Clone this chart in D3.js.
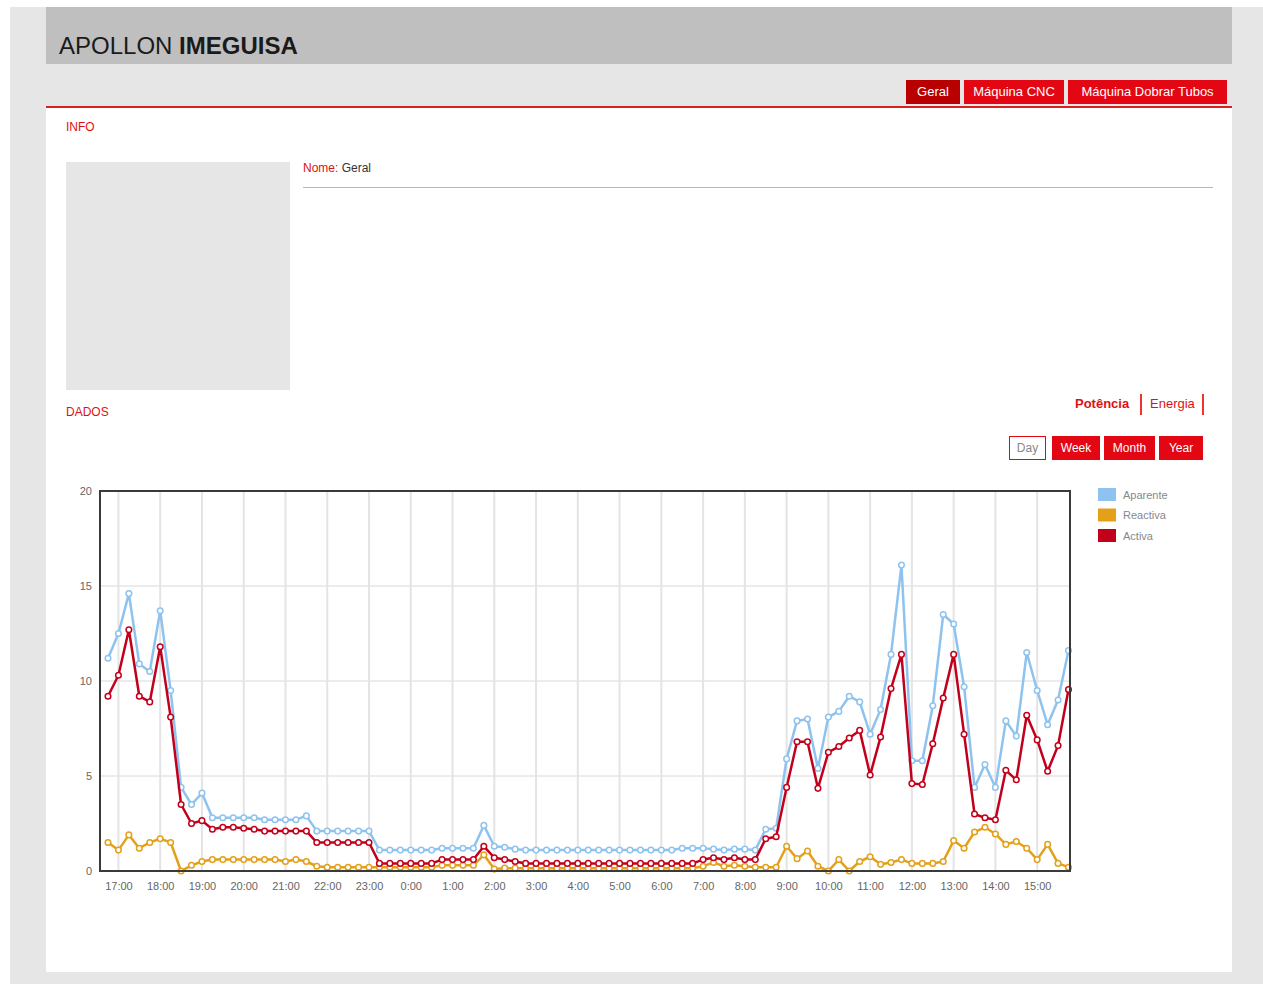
<!DOCTYPE html>
<html lang="pt">
	<head>
		<meta charset="utf-8">
		<title>APOLLON IMEGUISA | Geral</title>
		<script type="text/javascript" src="https://d3js.org/d3.v7.min.js"></script>
		<style type="text/css">
		body{
			margin:0;
			width:1263px;
			height:984px;
			background:#ffffff;
			font-family:"Liberation Sans", Arial, sans-serif;
			position:relative;
			overflow:hidden;
		}
		#page{position:absolute;left:10px;top:7px;width:1253px;height:977px;background:#e6e6e6;}
		#header{position:absolute;left:46px;top:7px;width:1186px;height:57px;background:#bfbfbf;}
		#header span{position:absolute;left:13px;top:25px;font-size:24px;color:#1a1a1a;}
		#panel{position:absolute;left:46px;top:106px;width:1186px;height:864px;background:#ffffff;border-top:2px solid #d42020;}
		.tab{position:absolute;top:80px;height:24px;line-height:24px;font-size:13px;color:#fff;background:#e30613;text-align:center;}
		.red{color:#d11;font-size:12px;position:absolute;}
		.btn{position:absolute;top:436px;height:22px;line-height:22px;font-size:12px;color:#fff;background:#e30613;text-align:center;border:1px solid #e30613;}
		</style>
	</head>
	<body>
		<div id="page"></div>
		<div id="header"><span>APOLLON <b>IMEGUISA</b></span></div>
		<div class="tab" style="left:906px;width:54px;background:#b80000;">Geral</div>
		<div class="tab" style="left:964px;width:100px;">Máquina CNC</div>
		<div class="tab" style="left:1068px;width:159px;">Máquina Dobrar Tubos</div>
		<div id="panel"></div>
		<div class="red" style="left:66px;top:120px;">INFO</div>
		<div style="position:absolute;left:66px;top:162px;width:224px;height:228px;background:#e6e6e6;"></div>
		<div style="position:absolute;left:303px;top:161px;font-size:12px;color:#333;"><span style="color:#d11;">Nome:</span> Geral</div>
		<div style="position:absolute;left:303px;top:187px;width:910px;height:1px;background:#b8b8b8;"></div>
		<div class="red" style="left:66px;top:405px;">DADOS</div>
		<div class="red" style="left:1075px;top:396px;font-weight:bold;font-size:13px;">Potência</div>
		<div style="position:absolute;left:1140px;top:394px;width:2px;height:21px;background:#e33;"></div>
		<div class="red" style="left:1150px;top:396px;font-size:13px;">Energia</div>
		<div style="position:absolute;left:1202px;top:394px;width:2px;height:21px;background:#e33;"></div>
		<div class="btn" style="left:1009px;width:35px;background:#fff;color:#888;">Day</div>
		<div class="btn" style="left:1052px;width:46px;">Week</div>
		<div class="btn" style="left:1104px;width:49px;">Month</div>
		<div class="btn" style="left:1159px;width:42px;">Year</div>
		<div id="chart" style="position:absolute;left:46px;top:470px;"></div>

	<script type="text/javascript">

    // time of each reading (every 15 min)
    var categories = ["16:45",
        "17:00","17:15","17:30","17:45","18:00","18:15","18:30","18:45",
        "19:00","19:15","19:30","19:45","20:00","20:15","20:30","20:45",
        "21:00","21:15","21:30","21:45","22:00","22:15","22:30","22:45",
        "23:00","23:15","23:30","23:45","0:00","0:15","0:30","0:45",
        "1:00","1:15","1:30","1:45","2:00","2:15","2:30","2:45",
        "3:00","3:15","3:30","3:45","4:00","4:15","4:30","4:45",
        "5:00","5:15","5:30","5:45","6:00","6:15","6:30","6:45",
        "7:00","7:15","7:30","7:45","8:00","8:15","8:30","8:45",
        "9:00","9:15","9:30","9:45","10:00","10:15","10:30","10:45",
        "11:00","11:15","11:30","11:45","12:00","12:15","12:30","12:45",
        "13:00","13:15","13:30","13:45","14:00","14:15","14:30","14:45",
        "15:00","15:15","15:30","15:45"]

    var tickLabels = ["17:00","18:00","19:00","20:00","21:00","22:00","23:00","0:00",
        "1:00","2:00","3:00","4:00","5:00","6:00","7:00","8:00","9:00","10:00",
        "11:00","12:00","13:00","14:00","15:00"]

    var yTicks = [0,5,10,15,20]

    var aparente = [11.2,12.5,14.6,10.9,10.5,13.7,9.5,4.4,3.5,4.1,
        2.8,2.8,2.8,2.8,2.8,2.7,2.7,2.7,2.7,2.9,
        2.1,2.1,2.1,2.1,2.1,2.1,1.1,1.1,1.1,1.1,
        1.1,1.1,1.2,1.2,1.2,1.2,2.4,1.3,1.25,1.15,
        1.1,1.1,1.1,1.1,1.1,1.1,1.1,1.1,1.1,1.1,
        1.1,1.1,1.1,1.1,1.1,1.2,1.2,1.2,1.15,1.1,
        1.15,1.15,1.1,2.2,2.25,5.9,7.9,8.0,5.4,8.1,
        8.4,9.2,8.9,7.2,8.5,11.4,16.1,5.8,5.8,8.7,
        13.5,13.0,9.7,4.4,5.6,4.4,7.9,7.1,11.5,9.5,
        7.7,9.0,11.6]

    var reactiva = [1.5,1.1,1.9,1.2,1.5,1.7,1.5,0.0,0.3,0.5,
        0.6,0.6,0.6,0.6,0.6,0.6,0.6,0.5,0.6,0.5,
        0.25,0.2,0.2,0.2,0.2,0.2,0.2,0.2,0.2,0.2,
        0.2,0.2,0.3,0.3,0.3,0.3,0.85,0.1,0.15,0.15,
        0.15,0.15,0.15,0.15,0.15,0.15,0.15,0.15,0.15,0.15,
        0.15,0.15,0.15,0.15,0.15,0.15,0.15,0.25,0.45,0.25,
        0.3,0.25,0.2,0.2,0.2,1.3,0.65,1.05,0.25,0.0,
        0.6,0.0,0.5,0.75,0.35,0.45,0.6,0.4,0.4,0.4,
        0.5,1.6,1.2,2.05,2.3,1.95,1.4,1.55,1.2,0.6,
        1.4,0.4,0.2]

    var activa = [9.2,10.3,12.7,9.2,8.9,11.8,8.1,3.5,2.5,2.65,
        2.2,2.3,2.3,2.25,2.2,2.1,2.1,2.1,2.1,2.1,
        1.5,1.5,1.5,1.5,1.5,1.5,0.4,0.4,0.4,0.4,
        0.4,0.4,0.6,0.6,0.6,0.6,1.3,0.7,0.6,0.5,
        0.4,0.4,0.4,0.4,0.4,0.4,0.4,0.4,0.4,0.4,
        0.4,0.4,0.4,0.4,0.4,0.4,0.4,0.6,0.7,0.6,
        0.7,0.6,0.6,1.7,1.8,4.4,6.8,6.8,4.35,6.25,
        6.55,7.0,7.4,5.05,7.05,9.6,11.4,4.6,4.55,6.7,
        9.1,11.4,7.2,3.0,2.8,2.7,5.3,4.8,8.2,6.9,
        5.25,6.6,9.55]

    var seriesNames = ["Aparente","Reactiva","Activa"]
    var seriesColors = ["#8ec3ef","#e5a01a","#c2001c"]

    drawChart()

    function drawChart(){
        var w = 1186
        var h = 440
        var left = 54
        var top = 21
        var pw = 970
        var ph = 380

        var svg = d3.select("#chart")
            .append("svg")
            .attr("width",w)
            .attr("height",h)
            .style("font-family","'Liberation Sans', Arial, sans-serif")

        var g = svg.append("g")
            .attr("transform","translate(" + left + "," + top + ")")

        var xScale = d3.scalePoint()
            .domain(categories)
            .range([8,968.5])
        var yScale = d3.scaleLinear()
            .domain([0,20])
            .range([ph,0])

        //grid lines
        g.selectAll(".hgrid")
            .data(yTicks.slice(1,4))
            .enter()
            .append("line")
            .attr("x1",0).attr("x2",pw)
            .attr("y1",function(d){ return yScale(d) })
            .attr("y2",function(d){ return yScale(d) })
            .style("stroke","#d8d8d8")
        g.selectAll(".vgrid")
            .data(tickLabels)
            .enter()
            .append("line")
            .attr("x1",function(d){ return xScale(d) })
            .attr("x2",function(d){ return xScale(d) })
            .attr("y1",0).attr("y2",ph)
            .style("stroke","#e4e4e4")
            .style("stroke-width",2)

        var xAxis = d3.axisBottom(xScale)
            .tickValues(tickLabels)
            .tickSize(0)
            .tickPadding(11)
        var yAxis = d3.axisLeft(yScale)
            .tickValues(yTicks)
            .tickSize(0)
            .tickPadding(8)

        var xg = g.append("g")
            .attr("transform","translate(0," + ph + ")")
            .call(xAxis)
        var yg = g.append("g")
            .call(yAxis)
        xg.select(".domain").remove()
        yg.select(".domain").remove()
        svg.selectAll(".tick text")
            .style("font-size","11px")
            .style("fill","#666")

        //lines and points
        var all = [aparente,reactiva,activa]
        all.forEach(function(values,k){
            var line = d3.line()
                .x(function(d,i){ return xScale(categories[i]) })
                .y(function(d){ return yScale(d) })
            g.append("path")
                .datum(values)
                .attr("d",line)
                .style("fill","none")
                .style("stroke",seriesColors[k])
                .style("stroke-width",2.5)
                .style("stroke-linejoin","round")
            g.selectAll(".pt" + k)
                .data(values)
                .enter()
                .append("circle")
                .attr("cx",function(d,i){ return xScale(categories[i]) })
                .attr("cy",function(d){ return yScale(d) })
                .attr("r",2.8)
                .style("fill","#fff")
                .style("stroke",seriesColors[k])
                .style("stroke-width",1.5)
        })

        //plot frame
        g.append("rect")
            .attr("x",0).attr("y",0)
            .attr("width",pw).attr("height",ph)
            .style("fill","none")
            .style("stroke","#3a3a3a")
            .style("stroke-width",2)

        //legend
        var legend = svg.selectAll(".legend")
            .data(seriesNames)
            .enter()
            .append("g")
            .attr("transform",function(d,i){ return "translate(1052," + (18 + i*20.5) + ")" })
        legend.append("rect")
            .attr("width",18).attr("height",13)
            .style("fill",function(d,i){ return seriesColors[i] })
        legend.append("text")
            .attr("x",25).attr("y",10.5)
            .text(function(d){ return d })
            .style("font-size","11px")
            .style("fill","#888")
    }

		</script>
	</body>
</html>
